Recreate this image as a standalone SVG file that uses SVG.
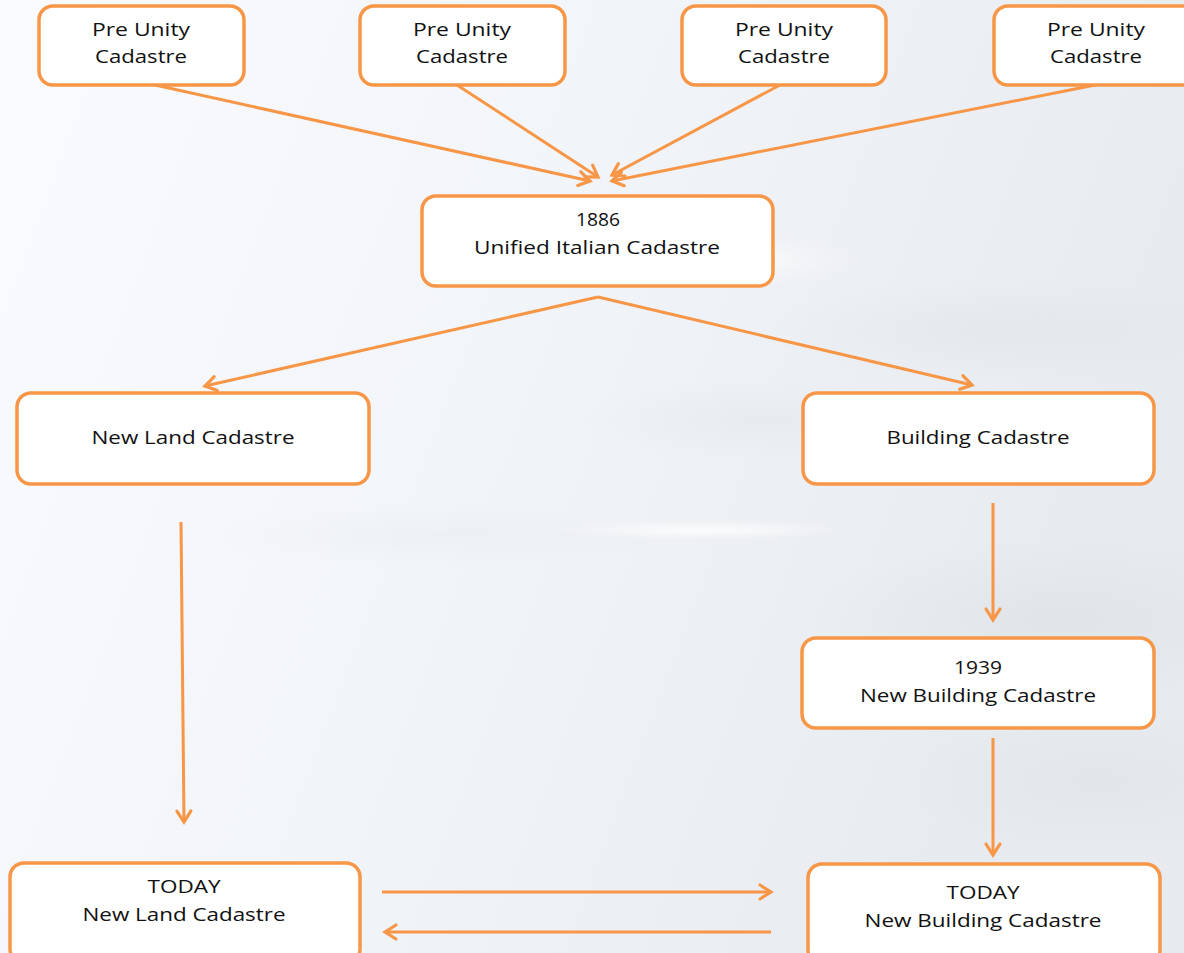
<svg xmlns="http://www.w3.org/2000/svg" width="1184" height="953" viewBox="0 0 1184 953">
<defs>
<linearGradient id="bg" x1="0" y1="0" x2="1" y2="0.3">
<stop offset="0" stop-color="#fafbfe"/>
<stop offset="0.45" stop-color="#f2f5f9"/>
<stop offset="1" stop-color="#e7eaee"/>
</linearGradient>
<radialGradient id="cloud" cx="0.5" cy="0.5" r="0.5">
<stop offset="0" stop-color="#d8dce1" stop-opacity="0.55"/>
<stop offset="1" stop-color="#d8dce1" stop-opacity="0"/>
</radialGradient>
<radialGradient id="wcloud" cx="0.5" cy="0.5" r="0.5">
<stop offset="0" stop-color="#ffffff" stop-opacity="0.8"/>
<stop offset="1" stop-color="#ffffff" stop-opacity="0"/>
</radialGradient>
<marker id="ah" viewBox="0 0 20 20" refX="17" refY="10" markerWidth="20" markerHeight="20" markerUnits="userSpaceOnUse" orient="auto">
<path d="M6,3 L17,10 L6,17" fill="none" stroke="#f79646" stroke-width="3.2" stroke-linecap="round" stroke-linejoin="miter"/>
</marker>
<style>
.box{fill:#ffffff;stroke:#f79646;stroke-width:3.5}
.t{font-family:"Open Sans","Liberation Sans",sans-serif;font-size:18px;fill:#111111;text-anchor:middle}
.c{fill:none;stroke:#f79646;stroke-width:3;marker-end:url(#ah)}
</style>
</defs>
<rect width="1184" height="953" fill="url(#bg)"/>
<ellipse cx="1000" cy="330" rx="240" ry="50" fill="url(#cloud)" opacity="0.6"/>
<ellipse cx="760" cy="420" rx="180" ry="40" fill="url(#cloud)" opacity="0.5"/>
<ellipse cx="1060" cy="620" rx="260" ry="80" fill="url(#cloud)" opacity="0.8"/>
<ellipse cx="1100" cy="780" rx="200" ry="70" fill="url(#cloud)" opacity="0.6"/>
<ellipse cx="440" cy="535" rx="240" ry="30" fill="url(#cloud)" opacity="0.35"/>
<ellipse cx="700" cy="260" rx="160" ry="30" fill="url(#wcloud)"/>
<ellipse cx="700" cy="530" rx="150" ry="10" fill="url(#wcloud)"/>

<g id="connectors">
<line class="c" x1="155" y1="85" x2="590" y2="181"/>
<line class="c" x1="457" y1="85" x2="598" y2="177"/>
<line class="c" x1="780" y1="85" x2="612" y2="175"/>
<line class="c" x1="1095" y1="85" x2="612" y2="181"/>
<line class="c" x1="598" y1="297" x2="205" y2="386"/>
<line class="c" x1="598" y1="297" x2="972" y2="385"/>
<line class="c" x1="181" y1="522" x2="184" y2="822"/>
<line class="c" x1="993" y1="503" x2="993" y2="620"/>
<line class="c" x1="993" y1="738" x2="993" y2="855"/>
<line class="c" x1="382" y1="892" x2="771" y2="892"/>
<line class="c" x1="771" y1="932" x2="385" y2="932"/>
</g>

<g id="pre1"><rect class="box" x="39" y="6" width="205" height="79" rx="14"/><text class="t" x="141" y="36" textLength="98" lengthAdjust="spacingAndGlyphs">Pre Unity</text><text class="t" x="141" y="63" textLength="92" lengthAdjust="spacingAndGlyphs">Cadastre</text></g>
<g id="pre2"><rect class="box" x="360" y="6" width="205" height="79" rx="14"/><text class="t" x="462" y="36" textLength="98" lengthAdjust="spacingAndGlyphs">Pre Unity</text><text class="t" x="462" y="63" textLength="92" lengthAdjust="spacingAndGlyphs">Cadastre</text></g>
<g id="pre3"><rect class="box" x="682" y="6" width="204" height="79" rx="14"/><text class="t" x="784" y="36" textLength="98" lengthAdjust="spacingAndGlyphs">Pre Unity</text><text class="t" x="784" y="63" textLength="92" lengthAdjust="spacingAndGlyphs">Cadastre</text></g>
<g id="pre4"><rect class="box" x="994" y="6" width="205" height="79" rx="14"/><text class="t" x="1096" y="36" textLength="98" lengthAdjust="spacingAndGlyphs">Pre Unity</text><text class="t" x="1096" y="63" textLength="92" lengthAdjust="spacingAndGlyphs">Cadastre</text></g>

<g id="unified"><rect class="box" x="422" y="196" width="351" height="90" rx="14"/><text class="t" x="598" y="226" textLength="44" lengthAdjust="spacingAndGlyphs">1886</text><text class="t" x="597" y="254" textLength="246" lengthAdjust="spacingAndGlyphs">Unified Italian Cadastre</text></g>

<g id="newland"><rect class="box" x="17" y="393" width="352" height="91" rx="14"/><text class="t" x="193" y="444" textLength="203" lengthAdjust="spacingAndGlyphs">New Land Cadastre</text></g>
<g id="building"><rect class="box" x="803" y="393" width="351" height="91" rx="14"/><text class="t" x="978" y="444" textLength="183" lengthAdjust="spacingAndGlyphs">Building Cadastre</text></g>

<g id="newbuilding1939"><rect class="box" x="802" y="638" width="352" height="90" rx="14"/><text class="t" x="978" y="674" textLength="48" lengthAdjust="spacingAndGlyphs">1939</text><text class="t" x="978" y="702" textLength="236" lengthAdjust="spacingAndGlyphs">New Building Cadastre</text></g>

<g id="todayland"><rect class="box" x="10" y="863" width="350" height="100" rx="14"/><text class="t" x="184" y="893" textLength="73" lengthAdjust="spacingAndGlyphs">TODAY</text><text class="t" x="184" y="921" textLength="203" lengthAdjust="spacingAndGlyphs">New Land Cadastre</text></g>
<g id="todaybuilding"><rect class="box" x="808" y="864" width="352" height="100" rx="14"/><text class="t" x="983" y="899" textLength="73" lengthAdjust="spacingAndGlyphs">TODAY</text><text class="t" x="983" y="927" textLength="237" lengthAdjust="spacingAndGlyphs">New Building Cadastre</text></g>
</svg>
